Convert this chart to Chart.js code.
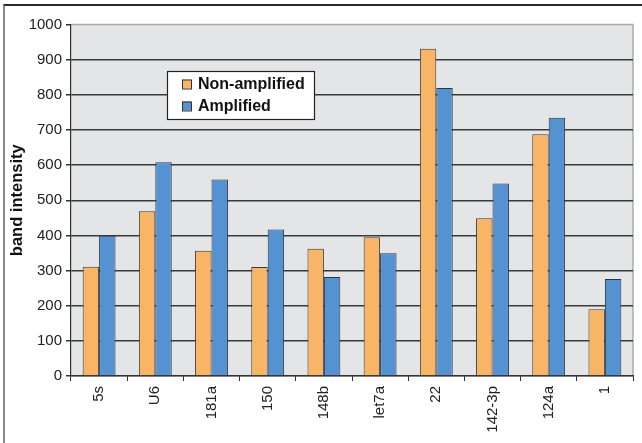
<!DOCTYPE html>
<html>
<head>
<meta charset="utf-8">
<script src="https://cdn.jsdelivr.net/npm/chart.js@4/dist/chart.umd.min.js"></script>
<style>
  html, body { margin: 0; padding: 0; background: #fff; overflow: hidden; }
  #wrap { position: relative; width: 642px; height: 443px; }
  #frame {
    position: absolute; left: 3px; top: 4px; width: 700px; height: 520px;
    border-top: 2px solid #2a2a2a; border-left: 2px solid #8a8a8a;
    box-sizing: border-box; pointer-events: none;
  }
  canvas { position: absolute; left: 0; top: 0; }
</style>
</head>
<body>
<div id="wrap">
  <div id="frame"></div>
  <canvas id="c" width="642" height="443"></canvas>
</div>
<script>
// Band intensity per small RNA, with and without amplification
const categories = ['5s', 'U6', '181a', '150', '148b', 'let7a', '22', '142-3p', '124a', '1'];
const nonAmplified = [311, 469, 356, 310, 362, 395, 931, 449, 688, 190];
const amplified = [399, 608, 559, 417, 282, 349, 819, 548, 735, 276];
const yTicks = [0, 100, 200, 300, 400, 500, 600, 700, 800, 900, 1000];
const seriesNames = ['Non-amplified', 'Amplified'];
const axisTitle = 'band intensity';

const FONT = '"Liberation Sans", Arial, Helvetica, sans-serif';
const ORANGE = '#f9b566';
const BLUE = '#5592d1';

// Grey plot background with a light border on top and right
const plotBackground = {
  id: 'plotBackground',
  beforeDraw(chart) {
    const { ctx, chartArea: a } = chart;
    ctx.save();
    ctx.fillStyle = '#e4e5e7';
    ctx.fillRect(a.left, a.top, a.right - a.left, a.bottom - a.top);
    ctx.strokeStyle = '#a9abae';
    ctx.lineWidth = 1.5;
    ctx.beginPath();
    ctx.moveTo(a.left, a.top);
    ctx.lineTo(a.right, a.top);
    ctx.lineTo(a.right, a.bottom);
    ctx.stroke();
    ctx.restore();
  }
};

// Boxed legend sitting inside the plot area
const boxLegend = {
  id: 'boxLegend',
  afterDraw(chart) {
    const { ctx, chartArea: a } = chart;
    const x = a.left + 96, y = a.top + 46.5, w = 147, h = 48;
    ctx.save();
    ctx.fillStyle = '#ffffff';
    ctx.fillRect(x, y, w, h);
    ctx.strokeStyle = '#222';
    ctx.lineWidth = 1.2;
    ctx.strokeRect(x + 0.5, y + 0.5, w, h);
    ctx.font = 'bold 16px ' + FONT;
    ctx.textBaseline = 'middle';
    chart.data.datasets.forEach((ds, i) => {
      const cy = y + 13 + i * 22;
      ctx.fillStyle = ds.backgroundColor;
      ctx.fillRect(x + 15, cy - 4.5, 9, 9);
      ctx.strokeStyle = '#333';
      ctx.lineWidth = 1;
      ctx.strokeRect(x + 15.5, cy - 4, 9, 9);
      ctx.fillStyle = '#111';
      ctx.fillText(ds.label, x + 31, cy + 0.5);
    });
    ctx.restore();
  }
};

new Chart(document.getElementById('c'), {
  type: 'bar',
  data: {
    labels: categories,
    datasets: [
      { label: seriesNames[0], data: nonAmplified, backgroundColor: ORANGE, borderColor: '#3a3a3a', borderWidth: 1 },
      { label: seriesNames[1], data: amplified, backgroundColor: BLUE, borderColor: '#2e3440', borderWidth: 1 }
    ]
  },
  options: {
    responsive: false,
    animation: false,
    events: [],
    layout: { padding: { top: 24.5, right: 9, bottom: 0, left: 0 } },
    datasets: { bar: { categoryPercentage: 0.585, barPercentage: 1.0 } },
    plugins: { legend: { display: false }, tooltip: { enabled: false } },
    scales: {
      x: {
        offset: true,
        grid: { drawOnChartArea: false, tickLength: 5, color: '#333', lineWidth: 1 },
        border: { color: '#333', width: 1.2 },
        ticks: {
          minRotation: 90, maxRotation: 90, autoSkip: false, padding: 5,
          color: '#222', font: { family: FONT, size: 15 }
        },
        afterFit(scale) { scale.height = 67; }
      },
      y: {
        min: 0, max: 1000,
        afterBuildTicks(scale) { scale.ticks = yTicks.map(v => ({ value: v })); },
        grid: {
          tickLength: 5,
          color: ctx => (ctx.tick && ctx.tick.value === 1000) ? 'rgba(0,0,0,0)' : '#3a3a3a',
          tickColor: '#333',
          lineWidth: 1.5
        },
        border: { color: '#333', width: 1.2 },
        ticks: {
          padding: 4, color: '#222', font: { family: FONT, size: 15 },
          callback: v => String(v)
        },
        title: {
          display: true, text: axisTitle, color: '#111',
          font: { family: FONT, size: 16.5, weight: 'bold' },
          padding: { top: 8, bottom: 0 }
        },
        afterFit(scale) { scale.width = 71; }
      }
    }
  },
  plugins: [plotBackground, boxLegend]
});
</script>
</body>
</html>
